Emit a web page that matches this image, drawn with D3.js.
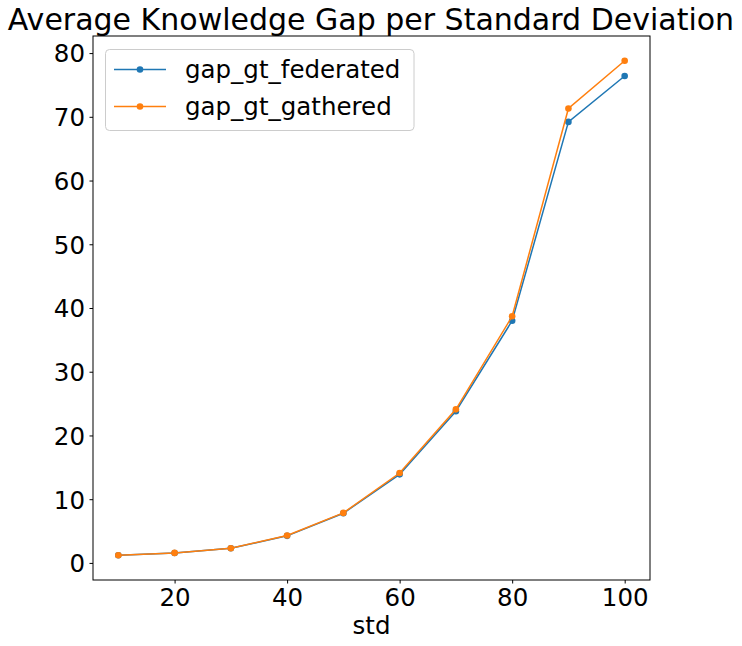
<!DOCTYPE html>
<html><head><meta charset="utf-8">
<script src="https://cdn.jsdelivr.net/npm/d3@7"></script>
<style>body{margin:0;background:#fff;} svg{display:block;font-family:"DejaVu Sans",sans-serif;}</style>
</head><body>
<script>
const stds = [10, 20, 30, 40, 50, 60, 70, 80, 90, 100];
const gapFederated = [1.2, 1.55, 2.3, 4.25, 7.8, 13.9, 23.8, 38.0, 69.2, 76.4];
const gapGathered  = [1.2, 1.57, 2.3, 4.3, 7.85, 14.1, 24.1, 38.7, 71.3, 78.8];
const seriesNames = ["gap_gt_federated", "gap_gt_gathered"];
const seriesColors = ["#1f77b4", "#ff7f0e"];
const xTicks = [20, 40, 60, 80, 100];
const yTicks = [0, 10, 20, 30, 40, 50, 60, 70, 80];

const W = 742, H = 646;
const L = 93, R = 650, T = 36, B = 580;
const FS = "24.5px";
const svg = d3.select("body").append("svg").attr("width", W).attr("height", H);

const allY = gapFederated.concat(gapGathered);
const yMin = d3.min(allY), yMax = d3.max(allY), yPad = (yMax - yMin) * 0.05;
const x = d3.scaleLinear().domain([5.5, 104.5]).range([L, R]);
const y = d3.scaleLinear().domain([yMin - yPad, yMax + yPad]).range([B, T]);

// axes
const xAxis = svg.append("g").attr("transform", `translate(0,${B})`)
  .call(d3.axisBottom(x).tickValues(xTicks).tickSize(3.5).tickPadding(4).tickFormat(d3.format("d")));
const yAxis = svg.append("g").attr("transform", `translate(${L},0)`)
  .call(d3.axisLeft(y).tickValues(yTicks).tickSize(3.5).tickPadding(4.5).tickFormat(d3.format("d")));
[xAxis, yAxis].forEach(g => {
  g.select(".domain").remove();
  g.selectAll("line").attr("stroke", "#000").attr("stroke-width", 1);
  g.selectAll("text").attr("fill", "#000").style("font-size", FS).style("font-family", "DejaVu Sans");
});
xAxis.selectAll("text").attr("y", 26).attr("dy", 0);
yAxis.selectAll("text").attr("dy", "0.36em");

// frame
svg.append("rect").attr("x", L).attr("y", T).attr("width", R - L).attr("height", B - T)
  .attr("fill", "none").attr("stroke", "#000").attr("stroke-width", 1);

// series
const seriesData = [gapFederated, gapGathered];
const line = d3.line().x(d => x(d[0])).y(d => y(d[1]));
seriesData.forEach((vals, i) => {
  const pts = stds.map((s, j) => [s, vals[j]]);
  svg.append("path").datum(pts).attr("d", line).attr("fill", "none")
    .attr("stroke", seriesColors[i]).attr("stroke-width", 1.5);
  svg.append("g").selectAll("circle").data(pts).join("circle")
    .attr("cx", d => x(d[0])).attr("cy", d => y(d[1])).attr("r", 3.3)
    .attr("fill", seriesColors[i]);
});

// title & label
svg.append("text").attr("x", 371).attr("y", 30).attr("text-anchor", "middle")
  .style("font-size", "30px").attr("fill", "#000").text("Average Knowledge Gap per Standard Deviation");
svg.append("text").attr("x", (L + R) / 2).attr("y", 634).attr("text-anchor", "middle")
  .style("font-size", FS).attr("fill", "#000").text("std");

// legend
const lg = svg.append("g");
lg.append("rect").attr("x", 105.5).attr("y", 49.5).attr("width", 308.5).attr("height", 81).attr("rx", 4)
  .attr("fill", "#fff").attr("fill-opacity", 0.8).attr("stroke", "#ccc").attr("stroke-width", 1);
seriesNames.forEach((n, i) => {
  const cy = 69.5 + i * 37;
  lg.append("line").attr("x1", 114).attr("x2", 166).attr("y1", cy).attr("y2", cy)
    .attr("stroke", seriesColors[i]).attr("stroke-width", 1.5);
  lg.append("circle").attr("cx", 140).attr("cy", cy).attr("r", 3.3).attr("fill", seriesColors[i]);
  lg.append("text").attr("x", 185).attr("y", cy).attr("dy", "0.36em").style("font-size", FS)
    .attr("fill", "#000").text(n);
});
</script>
</body></html>
